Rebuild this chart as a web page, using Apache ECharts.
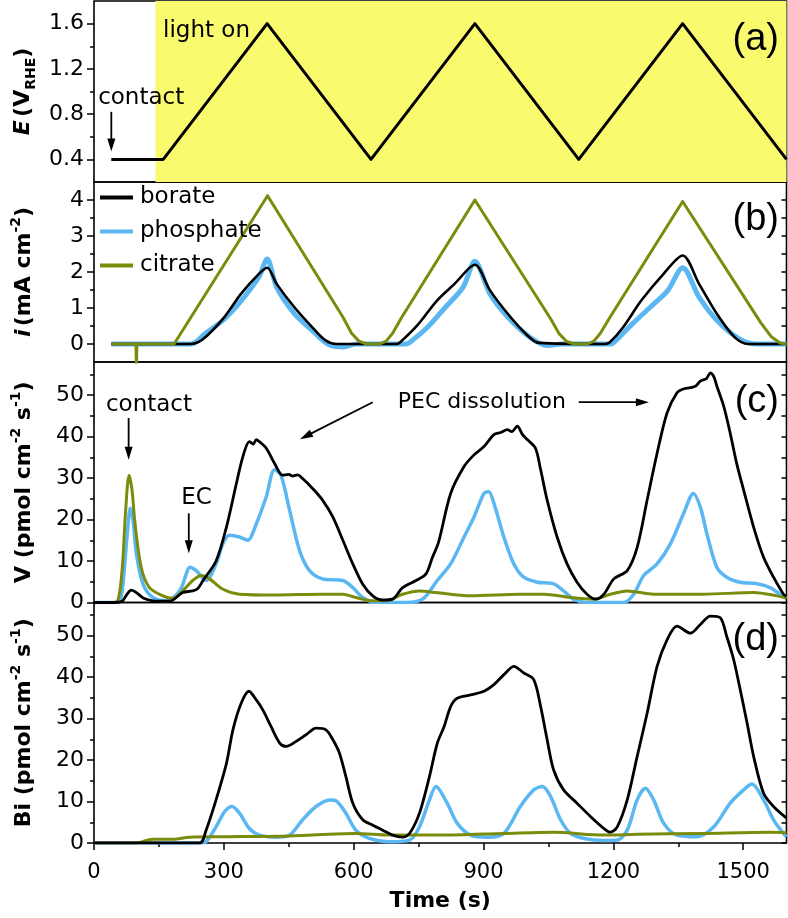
<!DOCTYPE html>
<html>
<head>
<meta charset="utf-8">
<script src="https://cdn.jsdelivr.net/npm/echarts@6/dist/echarts.min.js"></script>
<style>html,body{margin:0;padding:0;background:#fff}#c{width:788px;height:918px}</style>
</head>
<body>
<div id="c"></div>
<script>
// ---------------- DATA ----------------
const xTickLabels = [0, 300, 600, 900, 1200, 1500];
const xMinorTicks = [150, 450, 750, 1050, 1350];
const topTicks = [150, 300, 450, 600, 750, 900, 1050, 1200, 1350, 1500];

const E_ticks = [0.4, 0.8, 1.2, 1.6];
const E_minor = [0.6, 1.0, 1.4];
const I_ticks = [0, 1, 2, 3, 4];
const I_minor = [0.5, 1.5, 2.5, 3.5];
const R_ticks = [0, 10, 20, 30, 40, 50];
const R_minor = [5, 15, 25, 35, 45, 55];

const seriesNames = ['borate', 'phosphate', 'citrate'];

// (a) potential
const potentialE = [[40,0.4],[160,0.4],[400,1.6],[640,0.4],[880,1.6],[1120,0.4],[1360,1.6],[1600,0.4]];
const lightOnStart = 142;

// (b) current density
const borateI = [[40,0],[220,0],[250,0.12],[298,0.7],[340,1.4],[381,1.95],[400,2.12],[422,1.67],[463,1.02],[504,0.47],[535,0.1],[560,0],[700,0],[712,0.1],[750,0.56],[792,1.2],[833,1.67],[880,2.2],[915,1.49],[956,0.84],[997,0.29],[1028,0.03],[1180,0],[1192,0.05],[1223,0.47],[1264,1.2],[1316,1.95],[1360,2.46],[1398,1.67],[1439,0.84],[1480,0.19],[1511,0],[1600,0]];
const phosphateI = [[40,0],[225,0],[257,0.29],[298,0.66],[340,1.2],[381,1.86],[400,2.36],[422,1.58],[463,0.84],[504,0.38],[540,0],[576,-0.08],[607,0],[720,0],[730,0.05],[771,0.47],[812,1.02],[853,1.58],[880,2.3],[915,1.39],[956,0.75],[1007,0.19],[1048,-0.04],[1080,0],[1195,0],[1202,0.05],[1244,0.56],[1285,1.02],[1326,1.49],[1360,2.12],[1398,1.3],[1439,0.66],[1490,0.15],[1531,0],[1600,0]];
const citrateI = [[40,0],[97,0],[98,-0.7],[99,0],[185,0],[401,4.12],[575,0.75],[595,0.3],[612,0.08],[630,0],[660,0],[675,0.08],[690,0.3],[710,0.72],[880,4.0],[1055,0.7],[1075,0.28],[1092,0.07],[1110,0],[1140,0],[1155,0.08],[1170,0.3],[1190,0.7],[1360,3.96],[1540,0.6],[1565,0.2],[1585,0.03],[1600,0]];

// (c) V dissolution rate
const borateV = [[0,0],[50,0],[65,0.3],[75,1.8],[86,3.0],[98,2.4],[115,1],[136,0.4],[175,0.3],[205,2.4],[228,2.8],[240,3.4],[252,5.3],[282,10],[306,18.2],[329,28.7],[344,35.2],[359,38.8],[368,38.2],[375,39.3],[382,38.8],[398,37.2],[417,33.6],[436,30.7],[450,30.9],[459,30.5],[470,30.8],[482,29.9],[505,27.5],[528,24.7],[552,20.6],[575,15],[598,9.3],[621,4.4],[644,1.6],[667,0.6],[690,0.8],[713,3.6],[744,5.3],[767,6.9],[782,10.9],[796,14.5],[824,26.3],[855,32.8],[878,35.6],[901,37.6],[924,40.5],[940,41.0],[955,41.7],[965,41.2],[978,42.5],[990,40.5],[1001,39.3],[1020,37.2],[1032,32],[1047,24.7],[1070,15.8],[1093,9.3],[1116,4.9],[1139,2],[1159,0.8],[1178,2],[1201,5.7],[1232,7.7],[1255,13.3],[1278,24.7],[1301,36],[1324,45.7],[1347,50.6],[1362,51.5],[1378,51.8],[1390,52.2],[1401,53.4],[1415,54],[1424,55.4],[1432,54.5],[1439,52.2],[1455,47.3],[1470,40.8],[1485,33.5],[1501,27.1],[1524,18.2],[1547,10.9],[1570,6.1],[1593,2.0],[1600,1.5]];
const phosphateV = [[0,0],[50,0],[62,1],[70,8],[78,18],[84,22.7],[90,20],[98,11.7],[113,4.5],[136,1.2],[167,0.4],[198,2.8],[212,6.5],[221,8.5],[236,7.7],[259,5.3],[282,9.3],[298,14.2],[313,16.2],[336,15.8],[355,15],[375,19],[398,25.5],[417,32],[432,30.7],[452,22.2],[475,12.5],[498,7.7],[528,5.7],[575,5.3],[598,3.6],[621,1.2],[652,0],[721,0],[759,0.8],[793,5.3],[824,9.3],[855,15.8],[878,20.6],[901,26.3],[912,26.7],[924,23.9],[947,15.8],[970,9.3],[993,6.1],[1024,4.9],[1062,4.5],[1085,2.8],[1108,0.8],[1139,0],[1224,0],[1247,2],[1270,6.5],[1301,9.3],[1332,14.2],[1362,21.4],[1385,26.3],[1401,23],[1416,16.6],[1439,8.5],[1462,6.1],[1493,4.9],[1532,4.5],[1562,3.6],[1585,2],[1600,1.2]];
const citrateV = [[0,0],[40,0],[55,0.5],[65,8],[73,22],[81,30.7],[88,27],[94,19.8],[109,8.5],[128,3.6],[159,1.6],[182,1],[205,2.8],[228,5.3],[248,6.5],[267,5.7],[298,3.2],[336,2],[413,1.8],[528,2],[575,2],[605,1.2],[644,0.4],[675,0.4],[713,2],[752,2.8],[790,2.4],[870,1.6],[985,2],[1039,2],[1101,1.2],[1155,0.8],[1193,2],[1232,2.8],[1293,2],[1408,2],[1524,2.4],[1578,1.6],[1600,1]];

// (d) Bi dissolution rate
const borateBi = [[0,0],[244,0],[259,3.1],[282,10.4],[306,19.2],[321,27.3],[340,33.7],[358,36.6],[375,34.5],[390,32.1],[409,28.1],[429,24.1],[444,23.3],[467,24.5],[490,26.1],[513,27.7],[536,27.3],[552,24.9],[567,21.7],[582,16],[598,9.6],[621,5.6],[644,4.3],[667,3.1],[690,1.9],[713,1.4],[729,2.3],[752,7.2],[775,16],[793,24],[809,28.1],[824,32.9],[839,34.9],[870,35.7],[901,36.6],[924,38.2],[947,40.6],[970,42.6],[993,41],[1016,39.4],[1032,32.9],[1047,24.9],[1062,17.6],[1085,12.8],[1116,9.6],[1147,6.4],[1178,3.5],[1193,2.6],[1209,3.9],[1232,10.4],[1255,20.9],[1278,31.3],[1301,42.6],[1324,49],[1347,52.3],[1378,50.6],[1401,52.7],[1424,54.7],[1447,54.3],[1462,49.8],[1478,44.2],[1493,37],[1509,28.9],[1524,20.9],[1547,12],[1570,8.8],[1600,6]];
const phosphateBi = [[0,0],[244,0],[259,0.3],[282,3.9],[302,7.6],[319,8.8],[336,7.2],[359,3.5],[382,1.9],[421,1.4],[452,1.9],[482,5.6],[513,8.8],[544,10.4],[559,10.2],[582,7.2],[605,3.1],[636,1.1],[682,0.3],[729,0.7],[752,3.9],[775,10.4],[790,13.6],[816,9.6],[839,4.8],[870,1.9],[909,1.4],[947,2.3],[985,8.8],[1016,12.8],[1036,13.6],[1055,11.2],[1078,5.6],[1101,2.3],[1132,1.1],[1178,0.6],[1209,0.7],[1232,3.1],[1255,10.4],[1274,13.2],[1293,10.4],[1316,4.8],[1347,1.9],[1393,1.5],[1432,3.9],[1470,9.6],[1501,12.8],[1520,14.2],[1547,10.4],[1570,5.6],[1593,2.3],[1600,1.5]];
const citrateBi = [[0,0],[98,0],[120,0.6],[136,0.9],[182,0.9],[221,1.4],[298,1.5],[452,1.7],[605,2.3],[682,1.9],[798,1.9],[947,2.3],[1062,2.6],[1178,1.9],[1255,2.1],[1408,2.3],[1562,2.6],[1600,2.5]];

// ---------------- STYLE ----------------
const FONT = '"DejaVu Sans", Verdana, sans-serif';
const FONT_L = '"Liberation Sans", Arial, Helvetica, sans-serif';
const C_BOR = '#000000', C_PHO = '#5BB7F2', C_CIT = '#7B8C0C', C_YEL = '#FAFA6E';
const TICK_FS = 21;
const YTICK_FS = 22;
const TXT_FS = 23;

const grids = [
  {left: 94, right: 1.5, top: 1, height: 181},
  {left: 94, right: 1.5, top: 182, height: 180},
  {left: 94, right: 1.5, top: 362, height: 240.5},
  {left: 94, right: 1.5, top: 602.5, height: 240.5}
].map(g => Object.assign(g, {show: true, borderColor: '#000', borderWidth: 1.6, backgroundColor: 'transparent'}));

const nameRich = {
  b: {fontFamily: FONT, fontWeight: 'bold', fontSize: 22, color: '#000', lineHeight: 30},
  bi: {fontFamily: FONT, fontWeight: 'bold', fontStyle: 'italic', fontSize: 22, color: '#000', lineHeight: 30},
  sub: {fontFamily: FONT, fontWeight: 'bold', fontSize: 14, color: '#000', lineHeight: 14, verticalAlign: 'bottom'},
  sup: {fontFamily: FONT, fontWeight: 'bold', fontSize: 14, color: '#000', lineHeight: 14, verticalAlign: 'top'}
};

const panels = [
  {min: 0.2, max: 1.8, major: E_ticks, minor: E_minor, fmt: v => v.toFixed(1), name: '{bi|E} {b|(V}{sub|RHE}{b|)}'},
  {min: -0.5, max: 4.5, major: I_ticks, minor: I_minor, fmt: v => String(v), name: '{bi|i} {b|(mA cm}{sup|-2}{b|)}'},
  {min: 0, max: 58, major: R_ticks, minor: R_minor, fmt: v => String(v), name: '{b|V (pmol cm}{sup|-2}{b| s}{sup|-1}{b|)}'},
  {min: 0, max: 58, major: R_ticks, minor: R_minor, fmt: v => String(v), name: '{b|Bi (pmol cm}{sup|-2}{b| s}{sup|-1}{b|)}'}
];

const yAxes = [];
panels.forEach((p, g) => {
  yAxes.push({
    type: 'value', gridIndex: g, min: p.min, max: p.max, position: 'left',
    axisLine: {show: false}, splitLine: {show: false},
    axisTick: {show: true, inside: false, length: 7, customValues: p.major, lineStyle: {color: '#000', width: 1.5}},
    axisLabel: {show: true, customValues: p.major, formatter: p.fmt, margin: 10, fontFamily: FONT, fontSize: YTICK_FS, color: '#000'},
    name: p.name, nameLocation: 'middle', nameGap: 55, nameRotate: 90,
    nameTextStyle: {rich: nameRich}
  });
  yAxes.push({
    type: 'value', gridIndex: g, min: p.min, max: p.max, position: 'left',
    axisLine: {show: false}, splitLine: {show: false}, axisLabel: {show: false},
    axisTick: {show: true, inside: false, length: 4, customValues: p.minor, lineStyle: {color: '#000', width: 1.5}}
  });
  yAxes.push({
    type: 'value', gridIndex: g, min: p.min, max: p.max, position: 'right',
    axisLine: {show: false}, splitLine: {show: false}, axisLabel: {show: false},
    axisTick: {show: true, inside: true, length: 5, customValues: p.major.concat(p.minor), lineStyle: {color: '#000', width: 1.5}}
  });
});

const hiddenX = g => ({type: 'value', gridIndex: g, min: 0, max: 1600, axisLine: {show: false}, axisTick: {show: false}, axisLabel: {show: false}, splitLine: {show: false}});
const xAxes = [
  Object.assign(hiddenX(0), {position: 'top', axisTick: {show: true, inside: true, length: 6, customValues: topTicks, lineStyle: {color: '#000', width: 1.5}}}),
  hiddenX(1),
  hiddenX(2),
  Object.assign(hiddenX(3), {
    position: 'bottom',
    axisTick: {show: true, inside: false, length: 7, customValues: xTickLabels, lineStyle: {color: '#000', width: 1.5}},
    axisLabel: {show: true, customValues: xTickLabels, formatter: v => String(v), margin: 19, fontFamily: FONT, fontSize: TICK_FS, color: '#000'},
    name: 'Time (s)', nameLocation: 'middle', nameGap: 47,
    nameTextStyle: {fontFamily: FONT, fontWeight: 'bold', fontSize: 22, color: '#000'}
  }),
  Object.assign(hiddenX(3), {position: 'bottom', axisTick: {show: true, inside: false, length: 4, customValues: xMinorTicks, lineStyle: {color: '#000', width: 1.5}}})
];

function line(name, data, g, color, width, smooth) {
  return {
    type: 'line', name: name, data: data, xAxisIndex: g, yAxisIndex: 3 * g,
    showSymbol: false, symbol: 'none', smooth: smooth,
    color: color, lineStyle: {color: color, width: width, join: 'round'}, animation: false, silent: true
  };
}

const series = [
  Object.assign(line('E', potentialE, 0, '#000', 3, false), {
    markArea: {silent: true, itemStyle: {color: C_YEL, opacity: 1}, data: [[{xAxis: lightOnStart}, {xAxis: 1600}]]}
  }),
  line('phosphate', phosphateI, 1, C_PHO, 5, 0.3),
  line('borate', borateI, 1, C_BOR, 2.6, 0.3),
  line('citrate', citrateI, 1, C_CIT, 3, false),
  line('phosphate', phosphateV, 2, C_PHO, 3.5, 0.3),
  line('citrate', citrateV, 2, C_CIT, 3, 0.3),
  line('borate', borateV, 2, C_BOR, 2.8, 0.3),
  line('phosphate', phosphateBi, 3, C_PHO, 3.5, 0.3),
  line('citrate', citrateBi, 3, C_CIT, 3, 0.3),
  line('borate', borateBi, 3, C_BOR, 2.8, 0.3)
];

const chart = echarts.init(document.getElementById('c'), null, {renderer: 'canvas'});
chart.setOption({
  backgroundColor: '#fff',
  animation: false,
  grid: grids,
  xAxis: xAxes,
  yAxis: yAxes,
  legend: {
    data: seriesNames, orient: 'vertical', left: 100, top: 186, icon: 'rect',
    itemWidth: 33, itemHeight: 4, itemGap: 11, padding: 0, selectedMode: false,
    textStyle: {fontFamily: FONT, fontSize: TXT_FS, color: '#000', padding: [0, 0, 0, 2]}
  },
  series: series
});

// ---------------- ANNOTATIONS ----------------
function px(si, pt) { return chart.convertToPixel({seriesIndex: si}, pt); }
function arrow(si, a, b) {
  const p1 = px(si, a), p2 = px(si, b);
  const dx = p2[0] - p1[0], dy = p2[1] - p1[1], L = Math.hypot(dx, dy);
  const ux = dx / L, uy = dy / L, hl = 13, hw = 4;
  const bx = p2[0] - ux * hl, by = p2[1] - uy * hl;
  return [
    {type: 'line', shape: {x1: p1[0], y1: p1[1], x2: bx + ux * 2, y2: by + uy * 2}, style: {stroke: '#000', lineWidth: 1.8}, z: 100},
    {type: 'polygon', shape: {points: [[p2[0], p2[1]], [bx - uy * hw, by + ux * hw], [bx + uy * hw, by - ux * hw]]}, style: {fill: '#000'}, z: 100}
  ];
}
function label(si, pt, text, fs) {
  const p = px(si, pt);
  return {type: 'text', x: p[0], y: p[1], z: 100, style: {text: text, fontFamily: FONT, fontSize: fs || TXT_FS, fill: '#000', align: 'center', verticalAlign: 'middle'}};
}
function panelLabel(text, y) {
  return {type: 'text', x: 779, y: y, z: 100, style: {text: text, fontFamily: FONT_L, fontSize: 38, fill: '#000', align: 'right', verticalAlign: 'middle'}};
}

const g = [];
g.push(label(0, [260, 1.535], 'light on'));
g.push(label(0, [109, 0.94], 'contact'));
g.push(...arrow(0, [40, 0.82], [40, 0.47]));
g.push(label(4, [127, 47.7], 'contact'));
g.push(...arrow(4, [80, 44.5], [80, 34.4]));
g.push(label(4, [237, 25.3], 'EC'));
g.push(...arrow(4, [219, 21.5], [219, 11.9]));
g.push(label(4, [896, 48.4], 'PEC dissolution', 22));
g.push(...arrow(4, [644, 48.3], [476, 39.4]));
g.push(...arrow(4, [1120, 48.3], [1282, 48.3]));
g.push(panelLabel('(a)', 40));
g.push(panelLabel('(b)', 220));
g.push(panelLabel('(c)', 402));
g.push(panelLabel('(d)', 640));
chart.setOption({graphic: g});
</script>
</body>
</html>
